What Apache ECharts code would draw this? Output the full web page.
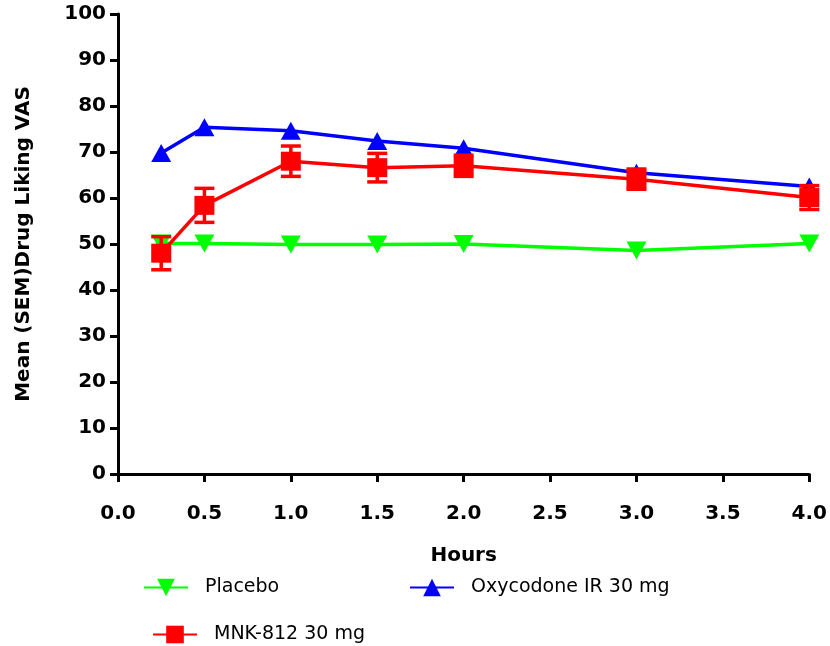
<!DOCTYPE html>
<html>
<head>
<meta charset="utf-8">
<script src="https://cdn.jsdelivr.net/npm/echarts@6/dist/echarts.min.js"></script>
<style>html,body{margin:0;padding:0;background:#fff;}#c{width:830px;height:646px;}</style>
</head>
<body>
<div id="c"></div>
<script>
const hours = [0.25, 0.5, 1, 1.5, 2, 3, 4];
const placebo = [50.1, 50.1, 49.9, 49.9, 50.0, 48.6, 50.1];
const oxycodone = [69.8, 75.4, 74.6, 72.4, 70.8, 65.5, 62.5];
const mnk = [48.0, 58.4, 68.0, 66.6, 67.0, 64.1, 60.1];
const mnkSem = [3.6, 3.7, 3.3, 3.1, 2.3, 2.2, 2.6];
const xTicks = ['0.0','0.5','1.0','1.5','2.0','2.5','3.0','3.5','4.0'];
const seriesNames = ['Placebo', 'Oxycodone IR 30 mg', 'MNK-812 30 mg'];

const pair = (xs, ys) => xs.map((x, i) => [x, ys[i]]);
const errData = hours.map((x, i) => [x, mnk[i] - mnkSem[i], mnk[i] + mnkSem[i]]);

const chart = echarts.init(document.getElementById('c'));
const boldFont = 'DejaVu Sans';
const legendBase = {
  orient: 'horizontal', itemWidth: 44, itemHeight: 22,
  textStyle: { fontFamily: 'DejaVu Sans', fontSize: 19, color: '#000', padding: [0, 0, 0, 12] },
  selectedMode: false
};
chart.setOption({
  animation: false,
  backgroundColor: '#fff',
  grid: { left: 118, right: 18, top: 14, bottom: 172, containLabel: false },
  legend: [
    Object.assign({}, legendBase, { data: [seriesNames[0]], left: 138, top: 573 }),
    Object.assign({}, legendBase, { data: [seriesNames[1]], left: 404, top: 573 }),
    Object.assign({}, legendBase, { data: [seriesNames[2]], left: 147, top: 620 })
  ],
  xAxis: {
    type: 'value', min: 0, max: 4, interval: 0.5,
    name: 'Hours', nameLocation: 'middle', nameGap: 72,
    nameTextStyle: { fontFamily: boldFont, fontWeight: 'bold', fontSize: 20, color: '#000', verticalAlign: 'top' },
    axisLine: { show: true, onZero: false, lineStyle: { color: '#000', width: 3 } },
    axisTick: { show: true, length: 8, lineStyle: { color: '#000', width: 3 } },
    axisLabel: { margin: 30, fontFamily: boldFont, fontWeight: 'bold', fontSize: 20, color: '#000',
      formatter: v => xTicks[Math.round(v / 0.5)] },
    splitLine: { show: false }
  },
  yAxis: {
    type: 'value', min: 0, max: 100, interval: 10,
    name: 'Mean (SEM)Drug Liking VAS', nameLocation: 'middle', nameGap: 84, nameRotate: 90,
    nameTextStyle: { fontFamily: boldFont, fontWeight: 'bold', fontSize: 20, color: '#000' },
    axisLine: { show: true, onZero: false, lineStyle: { color: '#000', width: 3 } },
    axisTick: { show: true, length: 8, lineStyle: { color: '#000', width: 3 } },
    axisLabel: { margin: 12, fontFamily: boldFont, fontWeight: 'bold', fontSize: 20, color: '#000' },
    splitLine: { show: false }
  },
  series: [
    {
      name: seriesNames[0], type: 'line', data: pair(hours, placebo),
      symbol: 'triangle', symbolRotate: 180, symbolSize: [20, 18],
      lineStyle: { color: '#00ff00', width: 3.5 }, itemStyle: { color: '#00ff00' }, z: 2
    },
    {
      name: seriesNames[1], type: 'line', data: pair(hours, oxycodone),
      symbol: 'triangle', symbolSize: [20, 18],
      lineStyle: { color: '#0000ff', width: 3.5 }, itemStyle: { color: '#0000ff' }, z: 3
    },
    {
      name: seriesNames[2], type: 'line', data: pair(hours, mnk),
      symbol: 'rect', symbolSize: [20, 19],
      lineStyle: { color: '#ff0000', width: 3.5 }, itemStyle: { color: '#ff0000' }, z: 5
    },
    {
      type: 'custom', name: 'MNK-812 SEM', z: 4,
      data: errData,
      encode: { x: 0, y: [1, 2] },
      renderItem: (params, api) => {
        const x = api.value(0);
        const lo = api.coord([x, api.value(1)]);
        const hi = api.coord([x, api.value(2)]);
        const hw = 10;
        const style = { stroke: '#ff0000', lineWidth: 3.5 };
        return {
          type: 'group', children: [
            { type: 'line', shape: { x1: lo[0], y1: lo[1], x2: hi[0], y2: hi[1] }, style },
            { type: 'line', shape: { x1: lo[0] - hw, y1: lo[1], x2: lo[0] + hw, y2: lo[1] }, style },
            { type: 'line', shape: { x1: hi[0] - hw, y1: hi[1], x2: hi[0] + hw, y2: hi[1] }, style }
          ]
        };
      }
    }
  ]
});
</script>
</body>
</html>
